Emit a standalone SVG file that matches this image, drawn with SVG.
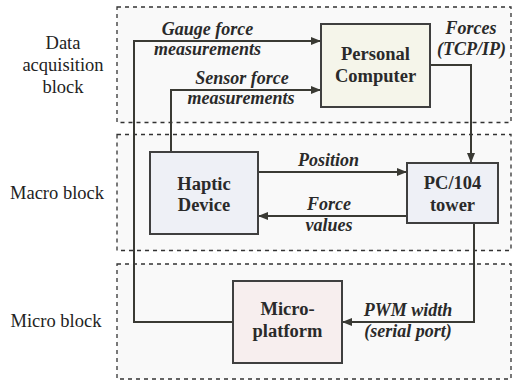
<svg xmlns="http://www.w3.org/2000/svg" width="513" height="387" viewBox="0 0 513 387">
<defs>
<marker id="ah" markerWidth="10" markerHeight="8" refX="9" refY="4" orient="auto" markerUnits="userSpaceOnUse">
<path d="M0,0 L10,4 L0,8 Z" fill="#3a3a34"/>
</marker>
<style>
.blk{fill:#f9f9f9;stroke:#333;stroke-width:1.3;stroke-dasharray:4,4}
.node{stroke:#3f3f3f;stroke-width:2}
text{font-family:'Liberation Serif','Times New Roman',Times,serif}
.side{font-size:18.5px;fill:#222;text-anchor:middle}
.nl{font-size:18.5px;font-weight:bold;fill:#2a2a2a;text-anchor:middle}
.el{font-size:18px;font-weight:bold;font-style:italic;fill:#2a2a2a;text-anchor:middle}
.c{fill:none;stroke:#3a3a34;stroke-width:2}
</style>
</defs>
<rect width="513" height="387" fill="#fff"/>
<g id="blocks">
<rect class="blk" x="117" y="7" width="394" height="115.5"/>
<rect class="blk" x="117" y="134.5" width="394" height="116"/>
<rect class="blk" x="117" y="264" width="394" height="115"/>
<text class="side" x="63" y="49">Data</text>
<text class="side" x="63" y="71">acquisition</text>
<text class="side" x="63" y="93">block</text>
<text class="side" x="57" y="199">Macro block</text>
<text class="side" x="56" y="327">Micro block</text>
</g>
<g id="connectors">
<path class="c" d="M233,322 H134 V41 H320" marker-end="url(#ah)"/>
<path class="c" d="M171,152 V90 H320" marker-end="url(#ah)"/>
<path class="c" d="M430,65 H471 V162" marker-end="url(#ah)"/>
<path class="c" d="M258,172 H406" marker-end="url(#ah)"/>
<path class="c" d="M407,216 H259" marker-end="url(#ah)"/>
<path class="c" d="M474,223 V322 H343" marker-end="url(#ah)"/>
<text class="el" x="207.5" y="35">Gauge force</text>
<text class="el" x="207.5" y="55">measurements</text>
<text class="el" x="242" y="84">Sensor force</text>
<text class="el" x="241" y="104">measurements</text>
<text class="el" x="471" y="34">Forces</text>
<text class="el" x="471.5" y="55">(TCP/IP)</text>
<text class="el" x="328.5" y="166">Position</text>
<text class="el" x="329" y="210">Force</text>
<text class="el" x="329" y="231">values</text>
<text class="el" x="408" y="316">PWM width</text>
<text class="el" x="408" y="337">(serial port)</text>
</g>
<g id="pc">
<rect class="node" x="321" y="24" width="109" height="83" fill="#f5f5ea"/>
<text class="nl" x="375.5" y="60">Personal</text>
<text class="nl" x="375.5" y="82">Computer</text>
</g>
<g id="haptic">
<rect class="node" x="150" y="152" width="108" height="82" fill="#eef0f6"/>
<text class="nl" x="204" y="190">Haptic</text>
<text class="nl" x="204" y="211">Device</text>
</g>
<g id="pc104">
<rect class="node" x="407" y="163" width="91" height="60" fill="#eef0f6"/>
<text class="nl" x="452.5" y="189">PC/104</text>
<text class="nl" x="452.5" y="211">tower</text>
</g>
<g id="micro">
<rect class="node" x="233" y="281" width="109" height="82" fill="#f7eeee"/>
<text class="nl" x="287.5" y="315">Micro-</text>
<text class="nl" x="287.5" y="337">platform</text>
</g>
</svg>
